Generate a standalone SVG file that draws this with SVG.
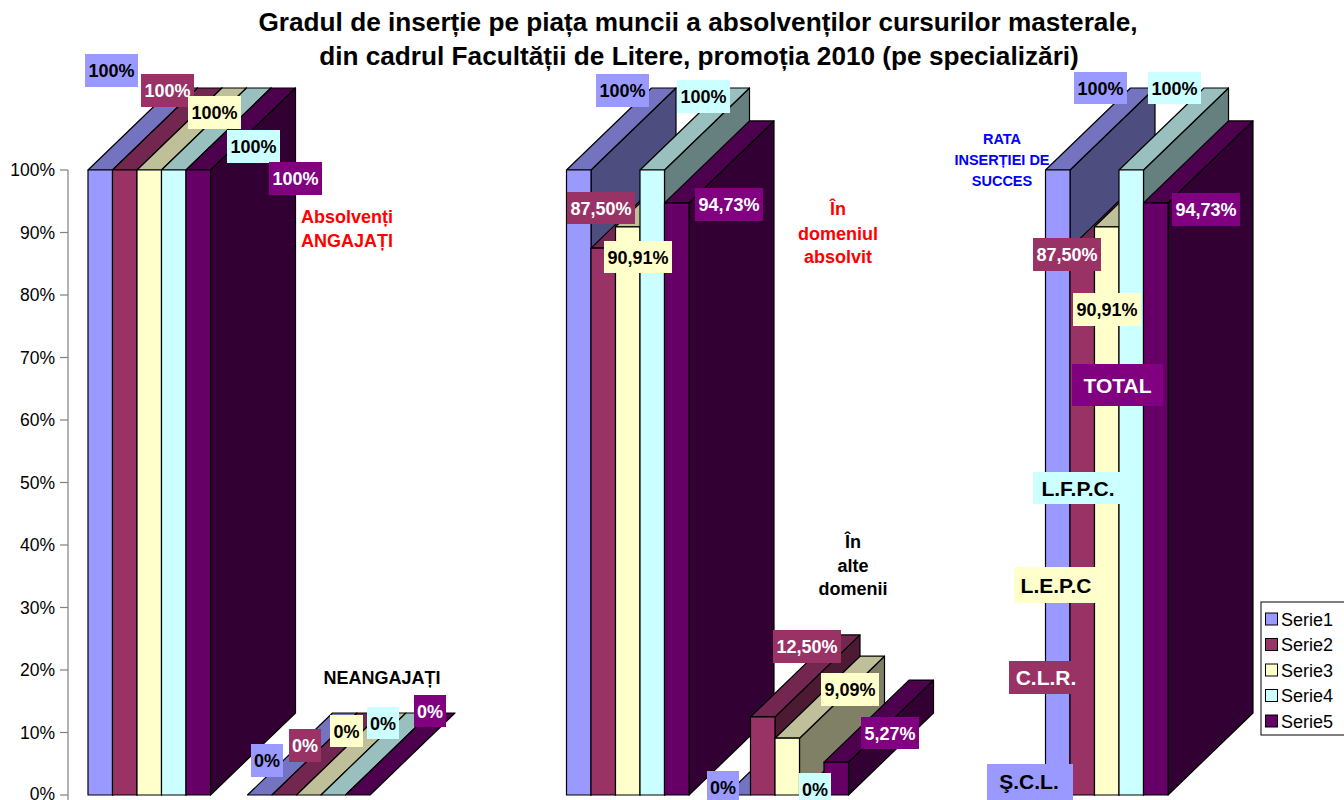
<svg xmlns="http://www.w3.org/2000/svg" width="1344" height="800" viewBox="0 0 1344 800">
<style>
.b{stroke:#000;stroke-width:1.2;stroke-linejoin:round}
.s1f{fill:#9999FF}.s1t{fill:#7373BF}.s1s{fill:#4D4D80}
.s2f{fill:#993366}.s2t{fill:#732650}.s2s{fill:#4D1A33}
.s3f{fill:#FFFFCC}.s3t{fill:#BFBF99}.s3s{fill:#808066}
.s4f{fill:#CCFFFF}.s4t{fill:#99BFBF}.s4s{fill:#668080}
.s5f{fill:#660066}.s5t{fill:#4D004D}.s5s{fill:#330033}
.t{font-family:"Liberation Sans",Arial,sans-serif}
.lb{font-family:"Liberation Sans",Arial,sans-serif;font-weight:bold;font-size:18px;text-anchor:middle}
.lw{fill:#fff}.lk{fill:#000}
.tick{font-family:"Liberation Sans",Arial,sans-serif;font-size:17.5px;text-anchor:end;fill:#000}
.red{fill:#FF0000}
.cat{font-family:"Liberation Sans",Arial,sans-serif;font-weight:bold;font-size:21px;text-anchor:middle}
.leg{font-family:"Liberation Sans",Arial,sans-serif;font-size:18px;fill:#000}
</style>
<rect x="0" y="0" width="1344" height="800" fill="#fff"/>

<g id="title" class="t" font-weight="bold" font-size="26.2" text-anchor="middle" fill="#000">
<text x="698" y="31">Gradul de inserție pe piața muncii a absolvenților cursurilor masterale,</text>
<text x="699" y="65">din cadrul Facultății de Litere, promoția 2010 (pe specializări)</text>
</g>

<g id="axis">
<line x1="68" y1="170" x2="68" y2="800" stroke="#808080" stroke-width="1.2"/>
<g stroke="#808080" stroke-width="1.2">
<line x1="60" y1="170" x2="68" y2="170"/><line x1="60" y1="232.5" x2="68" y2="232.5"/><line x1="60" y1="295" x2="68" y2="295"/><line x1="60" y1="357.5" x2="68" y2="357.5"/><line x1="60" y1="420" x2="68" y2="420"/><line x1="60" y1="482.5" x2="68" y2="482.5"/><line x1="60" y1="545" x2="68" y2="545"/><line x1="60" y1="607.5" x2="68" y2="607.5"/><line x1="60" y1="670" x2="68" y2="670"/><line x1="60" y1="732.5" x2="68" y2="732.5"/><line x1="60" y1="795" x2="68" y2="795"/>
</g>
<text class="tick" x="55" y="176">100%</text>
<text class="tick" x="55" y="238.5">90%</text>
<text class="tick" x="55" y="301">80%</text>
<text class="tick" x="55" y="363.5">70%</text>
<text class="tick" x="55" y="426">60%</text>
<text class="tick" x="55" y="488.5">50%</text>
<text class="tick" x="55" y="551">40%</text>
<text class="tick" x="55" y="613.5">30%</text>
<text class="tick" x="55" y="676">20%</text>
<text class="tick" x="55" y="738.5">10%</text>
<text class="tick" x="55" y="800">0%</text>
</g>

<g id="cat-angajati">
<polygon class="b s1s" points="112.5,170 197.5,88 197.5,713 112.5,795"/><polygon class="b s1t" points="88,170 112.5,170 197.5,88 173,88"/><rect class="b s1f" x="88" y="170" width="24.5" height="625"/>
<polygon class="b s2s" points="137,170 222,88 222,713 137,795"/><polygon class="b s2t" points="112.5,170 137,170 222,88 197.5,88"/><rect class="b s2f" x="112.5" y="170" width="24.5" height="625"/>
<polygon class="b s3s" points="161.5,170 246.5,88 246.5,713 161.5,795"/><polygon class="b s3t" points="137,170 161.5,170 246.5,88 222,88"/><rect class="b s3f" x="137" y="170" width="24.5" height="625"/>
<polygon class="b s4s" points="186,170 271,88 271,713 186,795"/><polygon class="b s4t" points="161.5,170 186,170 271,88 246.5,88"/><rect class="b s4f" x="161.5" y="170" width="24.5" height="625"/>
<polygon class="b s5s" points="210.5,170 295.5,88 295.5,713 210.5,795"/><polygon class="b s5t" points="186,170 210.5,170 295.5,88 271,88"/><rect class="b s5f" x="186" y="170" width="24.5" height="625"/>
</g>

<g id="cat-neangajati">
<polygon class="b s1t" points="247.5,795 272,795 357,713 332.5,713"/>
<polygon class="b s2t" points="272,795 296.5,795 381.5,713 357,713"/>
<polygon class="b s3t" points="296.5,795 321,795 406,713 381.5,713"/>
<polygon class="b s4t" points="321,795 345.5,795 430.5,713 406,713"/>
<polygon class="b s5t" points="345.5,795 370,795 455,713 430.5,713"/>
</g>

<g id="cat-domeniul-absolvit">
<polygon class="b s1s" points="591,170 676,88 676,713 591,795"/><polygon class="b s1t" points="566.5,170 591,170 676,88 651.5,88"/><rect class="b s1f" x="566.5" y="170" width="24.5" height="625"/>
<polygon class="b s2s" points="615.5,248.1 700.5,166.1 700.5,713 615.5,795"/><polygon class="b s2t" points="591,248.1 615.5,248.1 700.5,166.1 676,166.1"/><rect class="b s2f" x="591" y="248.1" width="24.5" height="546.9"/>
<polygon class="b s3s" points="640,226.8 725,144.8 725,713 640,795"/><polygon class="b s3t" points="615.5,226.8 640,226.8 725,144.8 700.5,144.8"/><rect class="b s3f" x="615.5" y="226.8" width="24.5" height="568.2"/>
<polygon class="b s4s" points="664.5,170 749.5,88 749.5,713 664.5,795"/><polygon class="b s4t" points="640,170 664.5,170 749.5,88 725,88"/><rect class="b s4f" x="640" y="170" width="24.5" height="625"/>
<polygon class="b s5s" points="689,202.9 774,120.9 774,713 689,795"/><polygon class="b s5t" points="664.5,202.9 689,202.9 774,120.9 749.5,120.9"/><rect class="b s5f" x="664.5" y="202.9" width="24.5" height="592.1"/>
</g>

<g id="cat-alte-domenii">
<polygon class="b s1t" points="726,795 750.5,795 835.5,713 811,713"/>
<polygon class="b s2s" points="775,716.9 860,634.9 860,713 775,795"/><polygon class="b s2t" points="750.5,716.9 775,716.9 860,634.9 835.5,634.9"/><rect class="b s2f" x="750.5" y="716.9" width="24.5" height="78.1"/>
<polygon class="b s3s" points="799.5,738.2 884.5,656.2 884.5,713 799.5,795"/><polygon class="b s3t" points="775,738.2 799.5,738.2 884.5,656.2 860,656.2"/><rect class="b s3f" x="775" y="738.2" width="24.5" height="56.8"/>
<polygon class="b s4t" points="799.5,795 824,795 909,713 884.5,713"/>
<polygon class="b s5s" points="848.5,762.1 933.5,680.1 933.5,713 848.5,795"/><polygon class="b s5t" points="824,762.1 848.5,762.1 933.5,680.1 909,680.1"/><rect class="b s5f" x="824" y="762.1" width="24.5" height="32.9"/>
</g>

<g id="cat-total">
<polygon class="b s1s" points="1070,170 1155,88 1155,713 1070,795"/><polygon class="b s1t" points="1045.5,170 1070,170 1155,88 1130.5,88"/><rect class="b s1f" x="1045.5" y="170" width="24.5" height="625"/>
<polygon class="b s2s" points="1094.5,248.1 1179.5,166.1 1179.5,713 1094.5,795"/><polygon class="b s2t" points="1070,248.1 1094.5,248.1 1179.5,166.1 1155,166.1"/><rect class="b s2f" x="1070" y="248.1" width="24.5" height="546.9"/>
<polygon class="b s3s" points="1119,226.8 1204,144.8 1204,713 1119,795"/><polygon class="b s3t" points="1094.5,226.8 1119,226.8 1204,144.8 1179.5,144.8"/><rect class="b s3f" x="1094.5" y="226.8" width="24.5" height="568.2"/>
<polygon class="b s4s" points="1143.5,170 1228.5,88 1228.5,713 1143.5,795"/><polygon class="b s4t" points="1119,170 1143.5,170 1228.5,88 1204,88"/><rect class="b s4f" x="1119" y="170" width="24.5" height="625"/>
<polygon class="b s5s" points="1168,202.9 1253,120.9 1253,713 1168,795"/><polygon class="b s5t" points="1143.5,202.9 1168,202.9 1253,120.9 1228.5,120.9"/><rect class="b s5f" x="1143.5" y="202.9" width="24.5" height="592.1"/>
</g>

<g id="labels-angajati">
<rect x="85" y="54" width="53" height="33" fill="#9999FF"/><text class="lb lk" x="111.5" y="76.5">100%</text>
<rect x="141" y="74" width="53" height="33" fill="#993366"/><text class="lb lw" x="167.5" y="96.5">100%</text>
<rect x="188" y="96" width="53" height="33" fill="#FFFFCC"/><text class="lb lk" x="214.5" y="118.5">100%</text>
<rect x="227" y="130" width="53" height="33" fill="#CCFFFF"/><text class="lb lk" x="253.5" y="152.5">100%</text>
<rect x="269" y="162" width="53" height="33" fill="#800080"/><text class="lb lw" x="295.5" y="184.5">100%</text>
<text class="lb red" x="347" y="223">Absolvenți</text>
<text class="lb red" x="347" y="247">ANGAJAȚI</text>
</g>

<g id="labels-neangajati">
<text class="lb lk" x="382" y="683.5">NEANGAJAȚI</text>
<rect x="251" y="744" width="32" height="33" fill="#9999FF"/><text class="lb lk" x="267" y="767">0%</text>
<rect x="289" y="729" width="32" height="33" fill="#993366"/><text class="lb lw" x="305" y="752">0%</text>
<rect x="330" y="715" width="33" height="32" fill="#FFFFCC"/><text class="lb lk" x="346.5" y="737.5">0%</text>
<rect x="367" y="707" width="32" height="32" fill="#CCFFFF"/><text class="lb lk" x="383" y="729.5">0%</text>
<rect x="414" y="695" width="32" height="32" fill="#800080"/><text class="lb lw" x="430" y="717.5">0%</text>
</g>

<g id="labels-domeniul-absolvit">
<rect x="596" y="74" width="53" height="33" fill="#9999FF"/><text class="lb lk" x="622.5" y="96.5">100%</text>
<rect x="677" y="80" width="53" height="33" fill="#CCFFFF"/><text class="lb lk" x="703.5" y="102.5">100%</text>
<rect x="567" y="192" width="68" height="32" fill="#993366"/><text class="lb lw" x="601" y="214.5">87,50%</text>
<rect x="604" y="241" width="68" height="32" fill="#FFFFCC"/><text class="lb lk" x="638" y="263.5">90,91%</text>
<rect x="695" y="188" width="68" height="33" fill="#800080"/><text class="lb lw" x="729" y="211">94,73%</text>
<text class="lb red" x="838" y="215">În</text>
<text class="lb red" x="838" y="240">domeniul</text>
<text class="lb red" x="838" y="263">absolvit</text>
</g>

<g id="labels-alte-domenii">
<text class="lb lk" x="853" y="547.5">În</text>
<text class="lb lk" x="853" y="571.5">alte</text>
<text class="lb lk" x="853" y="594.5">domenii</text>
<rect x="773" y="630" width="68" height="33" fill="#993366"/><text class="lb lw" x="807" y="653">12,50%</text>
<rect x="821" y="673" width="58" height="33" fill="#FFFFCC"/><text class="lb lk" x="850" y="696">9,09%</text>
<rect x="861" y="717" width="58" height="32" fill="#800080"/><text class="lb lw" x="890" y="739.5">5,27%</text>
<rect x="707" y="771" width="32" height="33" fill="#9999FF"/><text class="lb lk" x="723" y="794">0%</text>
<rect x="799" y="773" width="32" height="33" fill="#CCFFFF"/><text class="lb lk" x="815" y="796">0%</text>
</g>

<g id="labels-total">
<text class="t" x="1002" y="144" font-weight="bold" font-size="14.5" text-anchor="middle" fill="#0000FF">RATA</text>
<text class="t" x="1002" y="165" font-weight="bold" font-size="14.5" text-anchor="middle" fill="#0000FF">INSERȚIEI DE</text>
<text class="t" x="1002" y="186" font-weight="bold" font-size="14.5" text-anchor="middle" fill="#0000FF">SUCCES</text>
<rect x="1074" y="72" width="53" height="32" fill="#9999FF"/><text class="lb lk" x="1100.5" y="94.5">100%</text>
<rect x="1148" y="72" width="53" height="32" fill="#CCFFFF"/><text class="lb lk" x="1174.5" y="94.5">100%</text>
<rect x="1033" y="238" width="68" height="33" fill="#993366"/><text class="lb lw" x="1067" y="261">87,50%</text>
<rect x="1073" y="293" width="68" height="33" fill="#FFFFCC"/><text class="lb lk" x="1107" y="316">90,91%</text>
<rect x="1172" y="193" width="68" height="33" fill="#800080"/><text class="lb lw" x="1206" y="216">94,73%</text>
</g>

<g id="specializari">
<rect x="1072" y="364" width="91" height="42" fill="#800080"/><text class="cat lw" x="1117.5" y="392.5">TOTAL</text>
<rect x="1033" y="472" width="87" height="32" fill="#CCFFFF"/><text class="cat lk" x="1078" y="495.5">L.F.P.C.</text>
<rect x="1014" y="567" width="84" height="36" fill="#FFFFCC"/><text class="cat lk" x="1056" y="592.5">L.E.P.C</text>
<rect x="1009" y="661" width="73" height="33" fill="#993366"/><text class="cat lw" x="1046" y="685">C.L.R.</text>
<rect x="987" y="764" width="86" height="40" fill="#9999FF"/><text class="cat lk" x="1029" y="789">Ş.C.L.</text>
</g>

<g id="legend">
<rect x="1261" y="602" width="90" height="133" fill="#fff" stroke="#000" stroke-width="1"/>
<rect x="1265.5" y="613" width="12" height="12" class="s1f" stroke="#000" stroke-width="1"/><text class="leg" x="1281" y="625.5">Serie1</text>
<rect x="1265.5" y="638.5" width="12" height="12" class="s2f" stroke="#000" stroke-width="1"/><text class="leg" x="1281" y="651">Serie2</text>
<rect x="1265.5" y="664" width="12" height="12" class="s3f" stroke="#000" stroke-width="1"/><text class="leg" x="1281" y="676.5">Serie3</text>
<rect x="1265.5" y="689.5" width="12" height="12" class="s4f" stroke="#000" stroke-width="1"/><text class="leg" x="1281" y="702">Serie4</text>
<rect x="1265.5" y="715" width="12" height="12" class="s5f" stroke="#000" stroke-width="1"/><text class="leg" x="1281" y="727.5">Serie5</text>
</g>
</svg>
